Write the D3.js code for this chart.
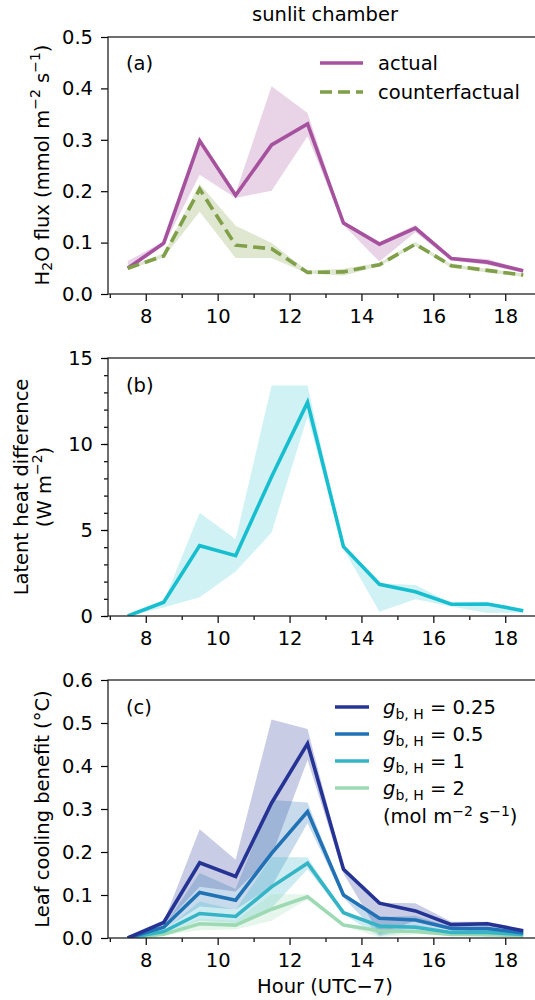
<!DOCTYPE html>
<html>
<head>
<meta charset="utf-8">
<script src="https://cdn.jsdelivr.net/npm/d3@7"></script>
<style>
  body { margin: 0; background: #fff; }
  svg { display: block; font-family: "DejaVu Sans", sans-serif; }
</style>
</head>
<body>
<svg id="chart"></svg>
<script>
// hour of day (UTC-7), half-hour bin centres
const hours = [7.5, 8.5, 9.5, 10.5, 11.5, 12.5, 13.5, 14.5, 15.5, 16.5, 17.5, 18.5];

// (a) H2O flux, mmol m-2 s-1
const fluxActual   = [0.050, 0.099, 0.298, 0.192, 0.290, 0.331, 0.138, 0.097, 0.128, 0.069, 0.062, 0.045];
const fluxActualLo = [0.047, 0.094, 0.232, 0.187, 0.201, 0.307, 0.134, 0.063, 0.120, 0.065, 0.057, 0.041];
const fluxActualHi = [0.064, 0.102, 0.300, 0.196, 0.404, 0.352, 0.142, 0.101, 0.134, 0.072, 0.068, 0.048];
const fluxCounter   = [0.050, 0.074, 0.204, 0.095, 0.088, 0.042, 0.043, 0.057, 0.097, 0.055, 0.046, 0.037];
const fluxCounterLo = [0.047, 0.071, 0.160, 0.070, 0.070, 0.040, 0.036, 0.054, 0.093, 0.051, 0.042, 0.033];
const fluxCounterHi = [0.053, 0.079, 0.214, 0.133, 0.099, 0.045, 0.049, 0.061, 0.101, 0.058, 0.049, 0.040];

// (b) latent heat difference, W m-2
const latent   = [0.0, 0.80, 4.09, 3.51, 8.1, 12.42, 4.03, 1.84, 1.41, 0.68, 0.70, 0.31];
const latentLo = [0.0, 0.50, 1.09, 2.58, 4.85, 11.6, 3.90, 0.25, 0.97, 0.55, 0.17, 0.20];
const latentHi = [0.0, 0.85, 6.01, 4.46, 13.4, 13.4, 4.15, 1.90, 1.80, 0.75, 0.75, 0.35];

// (c) leaf cooling benefit, degC, one series per g_b,H
const gbLabels = ["0.25", "0.5", "1", "2"];
const cool025   = [0, 0.036, 0.175, 0.143, 0.314, 0.452, 0.160, 0.081, 0.063, 0.031, 0.033, 0.017];
const cool025Lo = [0, 0.030, 0.119, 0.108, 0.190, 0.414, 0.150, 0.010, 0.040, 0.025, 0.006, 0.010];
const cool025Hi = [0, 0.038, 0.253, 0.182, 0.508, 0.486, 0.165, 0.082, 0.081, 0.038, 0.038, 0.020];
const cool05   = [0, 0.025, 0.106, 0.088, 0.197, 0.294, 0.100, 0.046, 0.042, 0.022, 0.022, 0.012];
const cool05Lo = [0, 0.020, 0.073, 0.066, 0.120, 0.267, 0.094, 0.006, 0.027, 0.018, 0.004, 0.007];
const cool05Hi = [0, 0.027, 0.151, 0.114, 0.321, 0.315, 0.104, 0.048, 0.052, 0.025, 0.025, 0.013];
const cool1   = [0, 0.015, 0.057, 0.050, 0.119, 0.174, 0.059, 0.028, 0.025, 0.013, 0.013, 0.008];
const cool1Lo = [0, 0.012, 0.040, 0.035, 0.070, 0.160, 0.055, 0.004, 0.016, 0.010, 0.003, 0.005];
const cool1Hi = [0, 0.016, 0.085, 0.065, 0.188, 0.188, 0.062, 0.029, 0.031, 0.015, 0.015, 0.009];
const cool2   = [0, 0.009, 0.033, 0.030, 0.067, 0.096, 0.030, 0.017, 0.015, 0.008, 0.008, 0.005];
const cool2Lo = [0, 0.007, 0.018, 0.020, 0.040, 0.090, 0.028, 0.002, 0.009, 0.006, 0.002, 0.003];
const cool2Hi = [0, 0.010, 0.045, 0.040, 0.102, 0.102, 0.032, 0.018, 0.019, 0.009, 0.009, 0.006];

const xMajor = [8, 10, 12, 14, 16, 18];
const xMinor = [7, 9, 11, 13, 15, 17, 19];

const W = 535, H = 1000;
const fs = 19.5, sfs = 14;
const svg = d3.select("#chart").attr("width", W).attr("height", H);

// x extends past the window edge like the original (right spine is cut off)
const x = d3.scaleLinear().domain([6.95, 19.05]).range([108, 543]);

const toPts = (vals, lo, hi) => hours.map((h, i) => ({h, v: vals[i], lo: lo[i], hi: hi[i]}));

function panel(id, top, bottom, yDomain, yMajor, yMinor, fmt) {
  const y = d3.scaleLinear().domain(yDomain).range([bottom, top]);
  const g = svg.append("g").attr("class", "panel-" + id);

  svg.append("clipPath").attr("id", "clip-" + id)
    .append("rect").attr("x", x.range()[0]).attr("y", top)
    .attr("width", x.range()[1] - x.range()[0]).attr("height", bottom - top);

  const plot = g.append("g").attr("clip-path", `url(#clip-${id})`);

  // axes
  g.append("g").attr("transform", `translate(0,${bottom})`)
    .call(d3.axisBottom(x).tickValues(xMajor).tickSize(7).tickPadding(8.5).tickFormat(d3.format("d")));
  g.append("g").attr("transform", `translate(0,${bottom})`)
    .call(d3.axisBottom(x).tickValues(xMinor).tickSize(4).tickFormat(""));
  g.append("g").attr("transform", `translate(${x.range()[0]},0)`)
    .call(d3.axisLeft(y).tickValues(yMajor).tickSize(7).tickPadding(8).tickFormat(fmt));
  if (yMinor) {
    g.append("g").attr("transform", `translate(${x.range()[0]},0)`)
      .call(d3.axisLeft(y).tickValues(yMinor).tickSize(4).tickFormat(""));
  }
  g.selectAll(".domain").remove();
  g.selectAll(".tick line").attr("stroke", "#000").attr("stroke-width", 1.2);
  g.selectAll(".tick text").attr("font-size", fs).attr("font-family", "DejaVu Sans").attr("fill", "#000");

  // spines
  g.append("rect").attr("x", x.range()[0]).attr("y", top)
    .attr("width", x.range()[1] - x.range()[0]).attr("height", bottom - top)
    .attr("fill", "none").attr("stroke", "#222").attr("stroke-width", 1.3);

  return {g, plot, y};
}

function band(p, pts, color, alpha) {
  p.plot.append("path").datum(pts)
    .attr("fill", color).attr("fill-opacity", alpha).attr("stroke", "none")
    .attr("d", d3.area().x(d => x(d.h)).y0(d => p.y(d.lo)).y1(d => p.y(d.hi)));
}
function line(p, pts, color, dash) {
  p.plot.append("path").datum(pts)
    .attr("fill", "none").attr("stroke", color).attr("stroke-width", 3.6)
    .attr("stroke-linejoin", "miter").attr("stroke-dasharray", dash || null)
    .attr("d", d3.line().x(d => x(d.h)).y(d => p.y(d.v)));
}

// title
svg.append("text").attr("x", 325).attr("y", 21).attr("text-anchor", "middle")
  .attr("font-size", fs).text("sunlit chamber");

// ---------- (a)
const purple = "#a6519e", olive = "#7f9f48";
const pa = panel("a", 37, 294, [0, 0.5], [0, 0.1, 0.2, 0.3, 0.4, 0.5], null, d3.format(".1f"));
const actualPts = toPts(fluxActual, fluxActualLo, fluxActualHi);
const counterPts = toPts(fluxCounter, fluxCounterLo, fluxCounterHi);
band(pa, actualPts, purple, 0.25);
band(pa, counterPts, olive, 0.25);
line(pa, actualPts, purple);
line(pa, counterPts, olive, "12,6");

pa.g.append("text").attr("x", 126).attr("y", 70).attr("font-size", fs).text("(a)");
const legA = [["actual", purple, null], ["counterfactual", olive, "12,6"]];
legA.forEach(([lab, c, dash], i) => {
  const yy = 63 + i * 29;
  pa.g.append("line").attr("x1", 320).attr("x2", 363).attr("y1", yy).attr("y2", yy)
    .attr("stroke", c).attr("stroke-width", 3.6).attr("stroke-dasharray", dash);
  pa.g.append("text").attr("x", 378).attr("y", yy).attr("dy", "0.35em")
    .attr("font-size", fs).text(lab);
});

const ylA = svg.append("text").attr("transform", "translate(42,165) rotate(-90)")
  .attr("text-anchor", "middle").attr("dominant-baseline", "central").attr("font-size", fs);
ylA.append("tspan").text("H");
ylA.append("tspan").attr("font-size", sfs).attr("dy", 5).text("2");
ylA.append("tspan").attr("dy", -5).text("O flux (mmol m");
ylA.append("tspan").attr("font-size", sfs).attr("dy", -7).text("\u22122");
ylA.append("tspan").attr("dy", 7).text(" s");
ylA.append("tspan").attr("font-size", sfs).attr("dy", -7).text("\u22121");
ylA.append("tspan").attr("dy", 7).text(")");

// ---------- (b)
const cyan = "#17becf";
const pb = panel("b", 358, 616, [0, 15], [0, 5, 10, 15], d3.range(0, 16, 1), d3.format("d"));
const latentPts = toPts(latent, latentLo, latentHi);
band(pb, latentPts, cyan, 0.2);
line(pb, latentPts, cyan);
pb.g.append("text").attr("x", 126).attr("y", 392).attr("font-size", fs).text("(b)");

svg.append("text").attr("transform", "translate(21,487) rotate(-90)")
  .attr("text-anchor", "middle").attr("dominant-baseline", "central").attr("font-size", fs)
  .text("Latent heat difference");
const ylB2 = svg.append("text").attr("transform", "translate(44,487) rotate(-90)")
  .attr("text-anchor", "middle").attr("dominant-baseline", "central").attr("font-size", fs);
ylB2.append("tspan").text("(W m");
ylB2.append("tspan").attr("font-size", sfs).attr("dy", -7).text("\u22122");
ylB2.append("tspan").attr("dy", 7).text(")");

// ---------- (c)
const gbColors = ["#253494", "#2171b5", "#35b4c6", "#9ddab4"];
const pc = panel("c", 680, 938, [0, 0.6], [0, 0.1, 0.2, 0.3, 0.4, 0.5, 0.6], null, d3.format(".1f"));
const coolSeries = [
  toPts(cool025, cool025Lo, cool025Hi),
  toPts(cool05, cool05Lo, cool05Hi),
  toPts(cool1, cool1Lo, cool1Hi),
  toPts(cool2, cool2Lo, cool2Hi)
];
coolSeries.forEach((pts, i) => band(pc, pts, gbColors[i], 0.25));
coolSeries.slice().reverse().forEach((pts, i) => line(pc, pts, gbColors[3 - i]));
pc.g.append("text").attr("x", 126).attr("y", 714).attr("font-size", fs).text("(c)");

gbLabels.forEach((lab, i) => {
  const yy = 707 + i * 27;
  pc.g.append("line").attr("x1", 335).attr("x2", 369).attr("y1", yy).attr("y2", yy)
    .attr("stroke", gbColors[i]).attr("stroke-width", 3.6);
  const t = pc.g.append("text").attr("x", 383).attr("y", yy).attr("dy", "0.35em").attr("font-size", fs);
  t.append("tspan").attr("font-style", "italic").text("g");
  t.append("tspan").attr("font-size", sfs).attr("dy", 5).text("b, H");
  t.append("tspan").attr("dy", -5).text(" = " + lab);
});
const unitT = pc.g.append("text").attr("x", 383).attr("y", 816).attr("dy", "0.35em").attr("font-size", fs);
unitT.append("tspan").text("(mol m");
unitT.append("tspan").attr("font-size", sfs).attr("dy", -7).text("\u22122");
unitT.append("tspan").attr("dy", 7).text(" s");
unitT.append("tspan").attr("font-size", sfs).attr("dy", -7).text("\u22121");
unitT.append("tspan").attr("dy", 7).text(")");

svg.append("text").attr("transform", "translate(42,809) rotate(-90)")
  .attr("text-anchor", "middle").attr("dominant-baseline", "central").attr("font-size", fs)
  .text("Leaf cooling benefit (\u00b0C)");

// x label
svg.append("text").attr("x", 325).attr("y", 993).attr("text-anchor", "middle")
  .attr("font-size", fs).text("Hour (UTC\u22127)");
</script>
</body>
</html>
